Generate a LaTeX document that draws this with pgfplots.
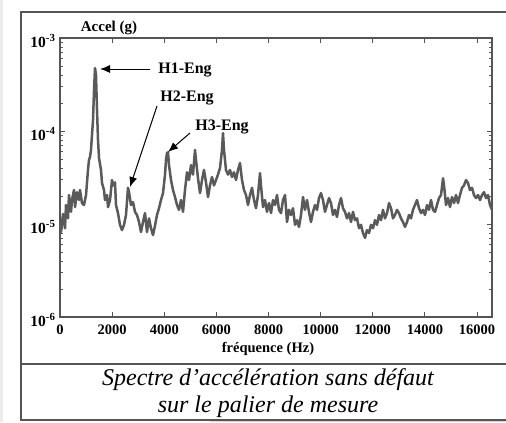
\documentclass[border=0pt]{standalone}
\usepackage{pgfplots}
\pgfplotsset{compat=1.18}
\usepackage{fontspec}
\setmainfont{Liberation Serif}
\usetikzlibrary{arrows.meta}
\definecolor{curve}{HTML}{5A5A5A}
\definecolor{axcol}{HTML}{555555}
\pgfplotstableread{
f a
0 1.03e-5
38 8.2e-6
115 1.28e-5
192 9e-6
230 1.6e-5
307 1.15e-5
345 2.05e-5
422 1.35e-5
460 1.81e-5
537 2.32e-5
576 1.52e-5
652 2.2e-5
729 1.81e-5
767 2.32e-5
844 1.68e-5
921 1.6e-5
998 2.05e-5
1074 3.81e-5
1113 4.9e-5
1151 5.25e-5
1189 6.25e-5
1228 9.1e-5
1266 1.3e-4
1305 2.75e-4
1343 4.75e-4
1381 4.0e-4
1420 1.7e-4
1458 8e-5
1497 5.1e-5
1573 3.81e-5
1612 2.76e-5
1688 2.32e-5
1727 1.81e-5
1804 2.05e-5
1842 1.52e-5
1919 1.81e-5
1996 2.97e-5
2034 2.6e-5
2110 2.8e-5
2149 1.6e-5
2225 1.31e-5
2302 9.8e-6
2379 8.6e-6
2456 9.8e-6
2532 1.25e-5
2609 2.45e-5
2648 2.2e-5
2724 1.6e-5
2801 1.72e-5
2878 1.35e-5
2955 1.25e-5
3031 1.05e-5
3108 8.2e-6
3185 1.05e-5
3261 1.31e-5
3338 8.2e-6
3415 1.15e-5
3492 9e-6
3568 7.6e-6
3645 9.6e-6
3722 1.25e-5
3799 1.48e-5
3875 1.81e-5
3952 2.15e-5
4029 3.4e-5
4067 4.9e-5
4106 5.8e-5
4144 5.9e-5
4183 4.3e-5
4259 2.97e-5
4336 2.32e-5
4413 1.95e-5
4489 1.6e-5
4566 1.42e-5
4643 1.81e-5
4720 1.35e-5
4796 2.32e-5
4873 3.6e-5
4950 2.97e-5
5026 4.3e-5
5103 3.4e-5
5180 6.25e-5
5218 4.9e-5
5295 3.1e-5
5372 2.15e-5
5449 2.97e-5
5525 3.81e-5
5602 2.8e-5
5679 1.95e-5
5755 2.6e-5
5832 3.2e-5
5909 2.6e-5
5986 2.97e-5
6062 3.4e-5
6139 4.0e-5
6216 6.25e-5
6254 9.5e-5
6293 6.25e-5
6369 3.81e-5
6446 3.4e-5
6523 3.81e-5
6600 3.2e-5
6676 3.6e-5
6753 2.97e-5
6830 3.81e-5
6906 4.53e-5
6983 2.97e-5
7060 2.32e-5
7137 2.05e-5
7213 1.6e-5
7290 2.05e-5
7367 2.45e-5
7444 1.81e-5
7520 1.48e-5
7597 2.05e-5
7674 3.53e-5
7712 2.6e-5
7789 1.52e-5
7866 1.81e-5
7942 1.35e-5
8019 1.68e-5
8096 1.31e-5
8173 1.81e-5
8249 1.6e-5
8326 2.05e-5
8403 1.42e-5
8480 1.31e-5
8556 1.81e-5
8633 2.05e-5
8710 1.05e-5
8786 1.42e-5
8863 1.25e-5
8940 1.48e-5
9017 9.8e-6
9093 1.1e-5
9170 9.3e-6
9247 1.25e-5
9324 1.95e-5
9400 1.42e-5
9477 1.81e-5
9554 1.35e-5
9630 1.05e-5
9707 1.35e-5
9784 1.6e-5
9861 1.42e-5
9937 1.9e-5
10014 2.15e-5
10091 1.81e-5
10168 1.35e-5
10244 1.6e-5
10321 1.9e-5
10398 1.68e-5
10475 1.25e-5
10551 1.42e-5
10628 1.19e-5
10705 1.6e-5
10782 1.9e-5
10858 1.48e-5
10935 1.35e-5
11012 1.15e-5
11089 1.31e-5
11165 1.05e-5
11242 1.35e-5
11319 1.1e-5
11396 1.15e-5
11472 9e-6
11549 9.8e-6
11626 8e-6
11703 7.1e-6
11779 8.6e-6
11856 8e-6
11933 9.8e-6
12010 9e-6
12086 1.1e-5
12163 9.8e-6
12240 1.25e-5
12317 1.1e-5
12393 1.42e-5
12470 1.15e-5
12547 1.31e-5
12624 1.68e-5
12700 1.48e-5
12777 1.15e-5
12854 1.25e-5
12931 1.42e-5
13007 1.31e-5
13084 1.15e-5
13161 1.05e-5
13237 9.3e-6
13314 1.05e-5
13391 1.25e-5
13468 1.15e-5
13544 1.42e-5
13621 1.6e-5
13698 1.81e-5
13775 1.48e-5
13851 1.31e-5
13928 1.42e-5
14005 1.25e-5
14082 1.6e-5
14158 1.42e-5
14235 1.81e-5
14312 1.42e-5
14389 1.35e-5
14465 1.6e-5
14542 1.9e-5
14619 2.05e-5
14696 3.1e-5
14734 2.6e-5
14811 1.6e-5
14888 1.9e-5
14964 1.52e-5
15041 1.95e-5
15118 1.68e-5
15195 2.05e-5
15271 1.68e-5
15348 2.05e-5
15425 2.45e-5
15502 2.6e-5
15578 2.97e-5
15655 2.76e-5
15732 2.32e-5
15808 2.45e-5
15885 2.05e-5
15962 1.9e-5
16039 2.05e-5
16115 1.81e-5
16192 2.05e-5
16269 2.2e-5
16346 1.9e-5
16422 2.05e-5
16499 1.6e-5
16576 1.42e-5
}\spectrum
\begin{document}
\begin{tikzpicture}[x=1bp,y=1bp]
\useasboundingbox (0,0) rectangle (506,422);
\fill[gray!15] (0,0) rectangle (3,422);
\fill[gray!30] (210,0) rectangle (506,2.5);
\begin{axis}[
  at={(60bp,105bp)}, anchor=south west,
  width=432bp, height=279bp, scale only axis,
  xmin=0, xmax=16576, ymin=1e-6, ymax=1e-3,
  ymode=log,
  scaled x ticks=false,
  xtick={0,2000,...,16000},
  ytick={1e-6,1e-5,1e-4,1e-3},
  yticklabels={{\textbf{10\textsuperscript{-6}}},{\textbf{10\textsuperscript{-5}}},{\textbf{10\textsuperscript{-4}}},{\textbf{10\textsuperscript{-3}}}},
  /pgf/number format/assume math mode=true,
  /pgf/number format/set thousands separator={},
  xticklabel style={font=\bfseries\fontsize{14.5bp}{16bp}\selectfont, yshift=-4bp},
  yticklabel style={font=\fontsize{15.5bp}{17bp}\selectfont, anchor=east, xshift=-1bp, yshift=-3bp},
  tick align=inside,
  major tick length=5bp, minor tick length=3bp,
  axis line style={axcol, line width=1.2bp},
  every tick/.style={axcol, line width=0.8bp},
  clip=true,
]
\addplot[curve, line width=2.5bp, line join=round] table[x=f, y=a] {\spectrum};
\end{axis}
% frame
\draw[axcol, line width=1.3bp] (506,410) -- (21,410) -- (21,2) -- (506,2);
\draw[axcol, line width=1.3bp] (21,58) -- (506,58);
% labels
\node[font=\bfseries\fontsize{15bp}{17bp}\selectfont] at (109,394) {Accel (g)};
\node[font=\bfseries\fontsize{14.5bp}{17bp}\selectfont] at (268,73) {fréquence (Hz)};
\node[font=\itshape\fontsize{24bp}{27bp}\selectfont, align=center] at (268,28.5) {Spectre d’accélération sans défaut\\sur le palier de mesure};
% annotations
\draw[black, line width=1bp, -{Latex[length=10bp,width=8bp]}] (150,353) -- (100,353);
\node[font=\bfseries\fontsize{16bp}{18bp}\selectfont] at (185,352) {H1-Eng};
\draw[black, line width=1bp, -{Latex[length=10bp,width=8bp]}] (157,316) -- (130,235);
\node[font=\bfseries\fontsize{16bp}{18bp}\selectfont] at (187,324) {H2-Eng};
\draw[black, line width=1bp, -{Latex[length=10bp,width=8bp]}] (190,289) -- (168,270);
\node[font=\bfseries\fontsize{16bp}{18bp}\selectfont] at (222,295) {H3-Eng};
\end{tikzpicture}
\end{document}
